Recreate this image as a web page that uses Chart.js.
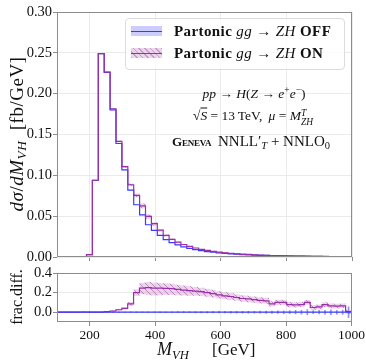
<!DOCTYPE html>
<html>
<head>
<meta charset="utf-8">
<script src="https://cdn.jsdelivr.net/npm/chart.js@4.4.1/dist/chart.umd.min.js"></script>
<style>
  body { margin: 0; background: #fff; }
  #wrap { position: relative; width: 366px; height: 364px; overflow: hidden; }
  canvas { position: absolute; left: 0; top: 0; }
  .t { position: absolute; font-family: 'Liberation Serif', serif; color: #111; white-space: nowrap; line-height: 1; }
  .c { transform: translate(-50%, -50%); }
  .l { transform: translateY(-50%); }
  .rot { transform-origin: 0 0; transform: rotate(-90deg) translate(-50%, -50%); }
  sub, sup { font-size: 70%; line-height: 0; }
  sub { vertical-align: -0.3em; }
  sup { vertical-align: 0.55em; }
  .ss { display: inline-flex; flex-direction: column; font-size: 70%; line-height: 0.9; vertical-align: 0.5em; }
  .ov { text-decoration: overline; }
  .sw { position: absolute; }
</style>
</head>
<body>
<div id="wrap">
  <canvas id="chart-main" width="366" height="364"></canvas>
  <canvas id="chart-ratio" width="366" height="364"></canvas>

  <div class="t" style="left:125px;top:18px;width:218px;height:50px;border:1px solid #dcdcdc;border-radius:4px;background:rgba(255,255,255,0.8);"></div>
  <div class="sw" style="left:131px;top:26px;width:31px;height:10px;background:rgba(110,110,255,0.35);">
    <div style="position:absolute;left:0;right:0;top:4.5px;height:1px;background:#3a3aff;"></div>
  </div>
  <div class="sw" style="left:131px;top:48px;width:31px;height:10px;background:repeating-linear-gradient(45deg, rgba(160,70,165,0.55) 0 1px, rgba(205,150,205,0.4) 1px 4px);">
    <div style="position:absolute;left:0;right:0;top:4.5px;height:1px;background:#9a2fa8;"></div>
  </div>
  <div class="t l" style="left:174px;top:31px;font-size:15px;letter-spacing:0.4px;"><b>Partonic</b> <i>gg</i> → <i>ZH</i> <b>OFF</b></div>
  <div class="t l" style="left:174px;top:53px;font-size:15px;letter-spacing:0.4px;"><b>Partonic</b> <i>gg</i> → <i>ZH</i> <b>ON</b></div>

  <div class="t c" style="left:254px;top:94px;font-size:13.5px;"><i>pp</i> → <i>H</i>(<i>Z</i> → <i>e</i><sup>+</sup><i>e</i><sup>−</sup>)</div>
  <div class="t c" style="left:253px;top:117px;font-size:13.5px;">√<span class="ov"><i>S</i></span> = 13&thinsp;TeV, &thinsp;<i>μ</i> = <i>M</i><span class="ss"><span><i>T</i></span><span><i>ZH</i></span></span></div>
  <div class="t l" style="left:172px;top:141px;font-size:13px;letter-spacing:-0.2px;"><b style="font-variant:small-caps;">Geneva</b></div>
  <div class="t l" style="left:218px;top:141px;font-size:15px;">NNLL′<sub><i>T</i></sub> + NNLO<sub>0</sub></div>

  <div class="t rot" style="left:16px;top:134px;font-size:19px;letter-spacing:0.5px;"><i>dσ</i>/<i>dM</i><sub><i>VH</i></sub>&nbsp;&nbsp;[fb/GeV]</div>
  <div class="t rot" style="left:17px;top:297px;font-size:16px;">frac.diff.</div>
  <div class="t l" style="left:157px;top:349px;font-size:18px;"><i>M</i><sub><i>VH</i></sub></div>
  <div class="t l" style="left:212px;top:349px;font-size:17px;">[GeV]</div>
</div>

<script>
// histogram bin edges (GeV)
const binEdges = [100, 118, 136, 154, 172, 190, 208, 226, 244, 262,
                  280, 298, 316, 334, 352, 370, 388, 406, 424, 442,
                  460, 478, 496, 514, 532, 550, 568, 586, 604, 622,
                  640, 658, 676, 694, 712, 730, 748, 766, 784, 802,
                  820, 838, 856, 874, 892, 910, 928, 946, 964, 982, 1000];

// d sigma / d M_VH  [fb/GeV], gg -> ZH OFF
const offXsec = [0, 0, 0, 0.0001, 0.0006, 0.003, 0.094, 0.249, 0.226, 0.180,
                 0.139, 0.1066, 0.082, 0.064, 0.0517, 0.0395, 0.0326, 0.0265, 0.0213, 0.0175,
                 0.0148, 0.0125, 0.0106, 0.0091, 0.0078, 0.0067, 0.0058, 0.0050, 0.0044, 0.0038,
                 0.0034, 0.0030, 0.0027, 0.0024, 0.0021, 0.0019, 0.0017, 0.0015, 0.0013, 0.0012,
                 0.0011, 0.0010, 0.0009, 0.0008, 0.0007, 0.0006, 0.0006, 0.0005, 0.0005, 0.0004];

// gg -> ZH ON
const onXsec = [0, 0, 0, 0.0001, 0.0006, 0.003, 0.094, 0.249, 0.2265, 0.1815,
                0.1415, 0.1106, 0.0885, 0.0755, 0.0627, 0.0498, 0.0408, 0.0330, 0.0265, 0.0217,
                0.0182, 0.0153, 0.0129, 0.0110, 0.0094, 0.0080, 0.0069, 0.0059, 0.0051, 0.0044,
                0.0039, 0.0034, 0.0031, 0.0027, 0.0024, 0.0021, 0.00185, 0.00165, 0.00143, 0.0013,
                0.00118, 0.00108, 0.00099, 0.00084, 0.00074, 0.00065, 0.00064, 0.00053, 0.00053, 0.0004];

// fractional difference ON vs OFF, with band (above / below)
const fracOn = [0, 0, 0, 0, 0.002, 0, 0, 0, 0.005, 0.012,
                0.025, 0.04, 0.085, 0.20, 0.245, 0.25, 0.245, 0.245, 0.243, 0.24,
                0.232, 0.226, 0.22, 0.215, 0.21, 0.20, 0.19, 0.177, 0.167, 0.16,
                0.15, 0.14, 0.135, 0.128, 0.12, 0.116, 0.085, 0.10, 0.10, 0.078,
                0.075, 0.078, 0.10, 0.048, 0.055, 0.077, 0.065, 0.062, 0.065, 0.005];
const fracOnUp = [0.002, 0.002, 0.002, 0.002, 0.002, 0.002, 0.002, 0.002, 0.003, 0.005,
                  0.008, 0.012, 0.02, 0.035, 0.055, 0.058, 0.056, 0.054, 0.052, 0.05,
                  0.048, 0.046, 0.044, 0.042, 0.04, 0.039, 0.038, 0.037, 0.036, 0.035,
                  0.034, 0.033, 0.033, 0.032, 0.032, 0.031, 0.028, 0.028, 0.027, 0.027,
                  0.026, 0.026, 0.025, 0.025, 0.024, 0.024, 0.024, 0.023, 0.023, 0.02];
const fracOnDown = [0.002, 0.002, 0.002, 0.002, 0.002, 0.002, 0.002, 0.002, 0.003, 0.005,
                    0.008, 0.012, 0.02, 0.035, 0.06, 0.075, 0.075, 0.072, 0.068, 0.064,
                    0.06, 0.056, 0.052, 0.048, 0.045, 0.042, 0.04, 0.038, 0.036, 0.035,
                    0.034, 0.033, 0.033, 0.032, 0.032, 0.031, 0.028, 0.028, 0.027, 0.027,
                    0.026, 0.026, 0.025, 0.025, 0.024, 0.024, 0.024, 0.023, 0.023, 0.02];

// OFF reference (zero line) and its error bars
const fracOff = new Array(50).fill(0);
const offErr = [0.002, 0.002, 0.002, 0.002, 0.006, 0.003, 0.001, 0.001, 0.001, 0.001,
                0.002, 0.002, 0.003, 0.003, 0.004, 0.004, 0.004, 0.005, 0.005, 0.005,
                0.006, 0.006, 0.006, 0.007, 0.007, 0.007, 0.008, 0.008, 0.008, 0.009,
                0.009, 0.010, 0.010, 0.010, 0.011, 0.012, 0.012, 0.013, 0.014, 0.016,
                0.018, 0.020, 0.026, 0.016, 0.018, 0.020, 0.024, 0.020, 0.022, 0.055];

const xTicks = [200, 400, 600, 800, 1000];
const yTicksMain = [0, 0.05, 0.10, 0.15, 0.20, 0.25, 0.30];
const yTicksRatio = [0, 0.2, 0.4];

const blue = '#3a3aff';
const purple = '#9a2fa8';
const gridColor = '#ebebeb';
const axisColor = '#8c8c8c';
const serif = "'Liberation Serif', serif";

function steps(vals) {
    return binEdges.map((x, i) => ({ x: x, y: vals[Math.min(i, vals.length - 1)] }));
}

function hatchPattern(ctx) {
    const c = document.createElement('canvas');
    c.width = 6; c.height = 6;
    const g = c.getContext('2d');
    g.fillStyle = 'rgba(205,150,205,0.40)';
    g.fillRect(0, 0, 6, 6);
    g.strokeStyle = 'rgba(160,70,165,0.55)';
    g.lineWidth = 1;
    g.beginPath();
    [-6, 0, 6].forEach(k => { g.moveTo(k, 0); g.lineTo(k + 6, 6); });
    g.stroke();
    return ctx.createPattern(c, 'repeat');
}

const framePlugin = {
    id: 'frame',
    afterDatasetsDraw(chart) {
        const { ctx, chartArea: a } = chart;
        ctx.save();
        ctx.strokeStyle = axisColor;
        ctx.lineWidth = 1;
        ctx.strokeRect(Math.round(a.left) + 0.5, Math.round(a.top) + 0.5,
                       Math.round(a.width) - 1, Math.round(a.height) - 1);
        ctx.restore();
    }
};

function xAxis(showLabels, height) {
    return {
        type: 'linear', min: 100, max: 1000, offset: false,
        afterBuildTicks: s => { s.ticks = xTicks.map(v => ({ value: v })); },
        afterFit: s => { s.height = height; },
        ticks: { display: showLabels, color: '#111', font: { family: serif, size: 13.5 }, padding: 1, maxRotation: 0,
                 callback: v => String(v) },
        grid: { color: gridColor, tickColor: axisColor, tickLength: 4, offset: false },
        border: { display: false }
    };
}

function yAxis(min, max, ticks, digits) {
    return {
        min: min, max: max,
        afterBuildTicks: s => { s.ticks = ticks.map(v => ({ value: v })); },
        afterFit: s => { s.width = 57; },
        ticks: { color: '#111', font: { family: serif, size: 14.5 }, padding: 1, callback: v => v.toFixed(digits) },
        grid: { color: gridColor, tickColor: axisColor, tickLength: 4 },
        border: { display: false }
    };
}

const lineStyle = { pointRadius: 0, stepped: true, fill: false, borderWidth: 1.2 };
const bandStyle = { pointRadius: 0, stepped: true, borderWidth: 0 };

// main panel
const ctxMain = document.getElementById('chart-main').getContext('2d');
const hatchMain = hatchPattern(ctxMain);
new Chart(ctxMain, {
    type: 'line',
    data: {
        datasets: [
            { ...lineStyle, data: steps(onXsec), borderColor: purple, order: 0 },
            { ...lineStyle, data: steps(offXsec), borderColor: blue, order: 1 },
            { ...bandStyle, data: steps(offXsec.map((v, i) => v * (1 + offErr[i]))), fill: false, order: 3 },
            { ...bandStyle, data: steps(offXsec.map((v, i) => v * (1 - offErr[i]))), fill: '-1', backgroundColor: 'rgba(110,110,255,0.35)', order: 3 },
            { ...bandStyle, data: steps(onXsec.map((v, i) => v * (1 + fracOnUp[i] / (1 + fracOn[i])))), fill: false, order: 2 },
            { ...bandStyle, data: steps(onXsec.map((v, i) => v * (1 - fracOnDown[i] / (1 + fracOn[i])))), fill: '-1', backgroundColor: hatchMain, order: 2 }
        ]
    },
    options: {
        responsive: false,
        animation: false,
        layout: { padding: { top: 12, right: 14, bottom: 100, left: 0 } },
        plugins: { legend: { display: false }, tooltip: { enabled: false } },
        scales: {
            x: xAxis(false, 7),
            y: yAxis(0, 0.30, yTicksMain, 2)
        }
    },
    plugins: [framePlugin]
});

// ratio panel
const ctxRatio = document.getElementById('chart-ratio').getContext('2d');
const hatchRatio = hatchPattern(ctxRatio);
const centers = binEdges.slice(0, -1).map((x, i) => (x + binEdges[i + 1]) / 2);
new Chart(ctxRatio, {
    type: 'line',
    data: {
        datasets: [
            { type: 'bar', data: centers.map((x, i) => ({ x: x, y: [-offErr[i], offErr[i]] })),
              backgroundColor: 'rgba(58,58,255,0.55)', barThickness: 1, grouped: false, order: 0 },
            { ...lineStyle, data: steps(fracOff), borderColor: blue, order: 1 },
            { ...lineStyle, data: steps(fracOn), borderColor: purple, order: 1 },
            { ...bandStyle, data: steps(fracOn.map((v, i) => v + fracOnUp[i])), fill: false, order: 2 },
            { ...bandStyle, data: steps(fracOn.map((v, i) => v - fracOnDown[i])), fill: '-1', backgroundColor: hatchRatio, order: 2 }
        ]
    },
    options: {
        responsive: false,
        animation: false,
        layout: { padding: { top: 273, right: 14, bottom: 0, left: 0 } },
        plugins: { legend: { display: false }, tooltip: { enabled: false } },
        scales: {
            x: xAxis(true, 42),
            y: yAxis(-0.1, 0.4, yTicksRatio, 1)
        }
    },
    plugins: [framePlugin]
});
</script>
</body>
</html>
